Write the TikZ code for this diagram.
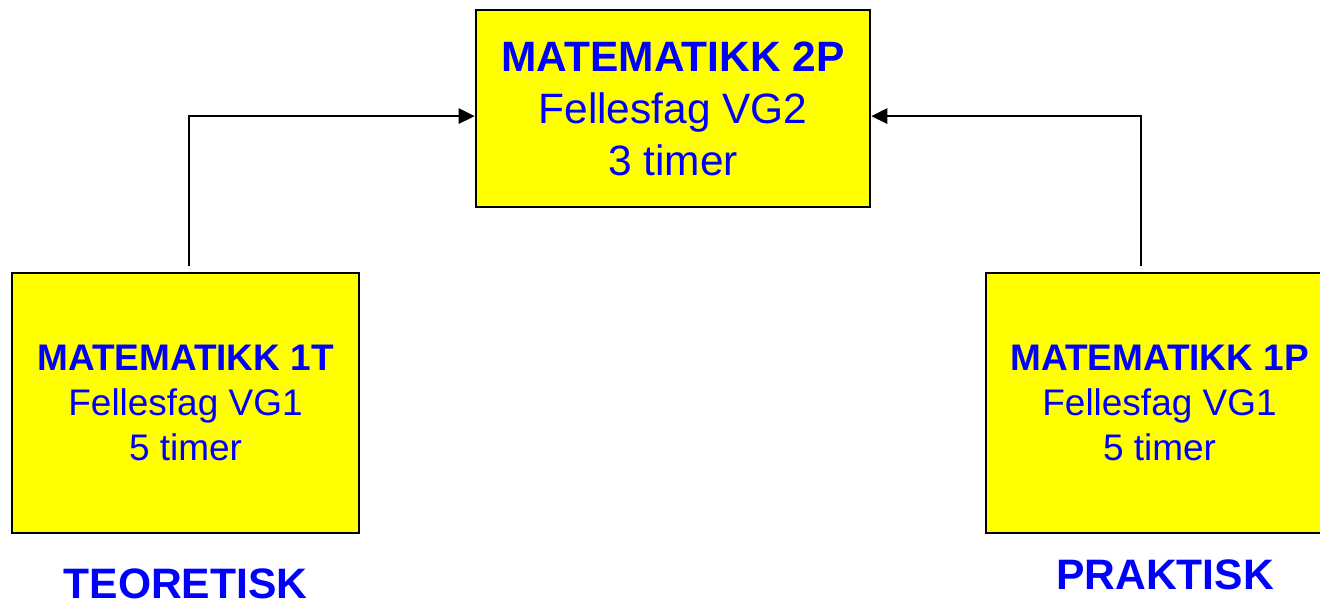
\documentclass[tikz,border=0pt]{standalone}
\usepackage{fontspec}
\setmainfont{Liberation Sans}
\usetikzlibrary{arrows.meta,positioning}
\definecolor{boxyellow}{RGB}{255,255,0}
\definecolor{textblue}{RGB}{0,0,255}
\tikzset{
  basic/.style  = {draw, fill=boxyellow, text=textblue, align=center, rectangle, line width=1.8pt, inner sep=0pt},
  level 2/.style = {basic, minimum width=9.85cm, minimum height=4.925cm,
                   font=\fontsize{30.2}{37}\selectfont},
  level 1/.style = {basic, minimum width=8.675cm, minimum height=6.5cm,
                   font=\fontsize{26.3}{32}\selectfont},
  track/.style = {text=textblue, inner sep=0pt, font=\bfseries\fontsize{30.3}{36}\selectfont},
  link/.style = {line width=1.5pt, -{Triangle[length=0.4cm,width=0.38cm]}, shorten <=0.15cm}
}

\begin{document}
\begin{tikzpicture}
\useasboundingbox (0,0) rectangle (33,15.05);
\node[level 2] (m2p) at (16.825,12.3375) {\textbf{MATEMATIKK 2P}\\Fellesfag VG2\\3 timer};
\node[level 1] (m1t) at (4.6375,4.975) {\textbf{MATEMATIKK 1T}\\Fellesfag VG1\\5 timer};
\node[level 1] (m1p) at (28.9875,4.975) {\textbf{MATEMATIKK 1P}\\Fellesfag VG1\\5 timer};
\node[track, anchor=base] (teo) at ([yshift=-1.6cm]m1t.south) {TEORETISK};
\node[track, anchor=base] (prak) at ([xshift=0.14cm,yshift=-1.375cm]m1p.south) {PRAKTISK};
\draw[link] ([xshift=0.09cm]m1t.north) |- ([yshift=-0.19cm]m2p.west);
\draw[link] ([xshift=-0.46cm]m1p.north) |- ([yshift=-0.19cm]m2p.east);
\end{tikzpicture}
\end{document}
